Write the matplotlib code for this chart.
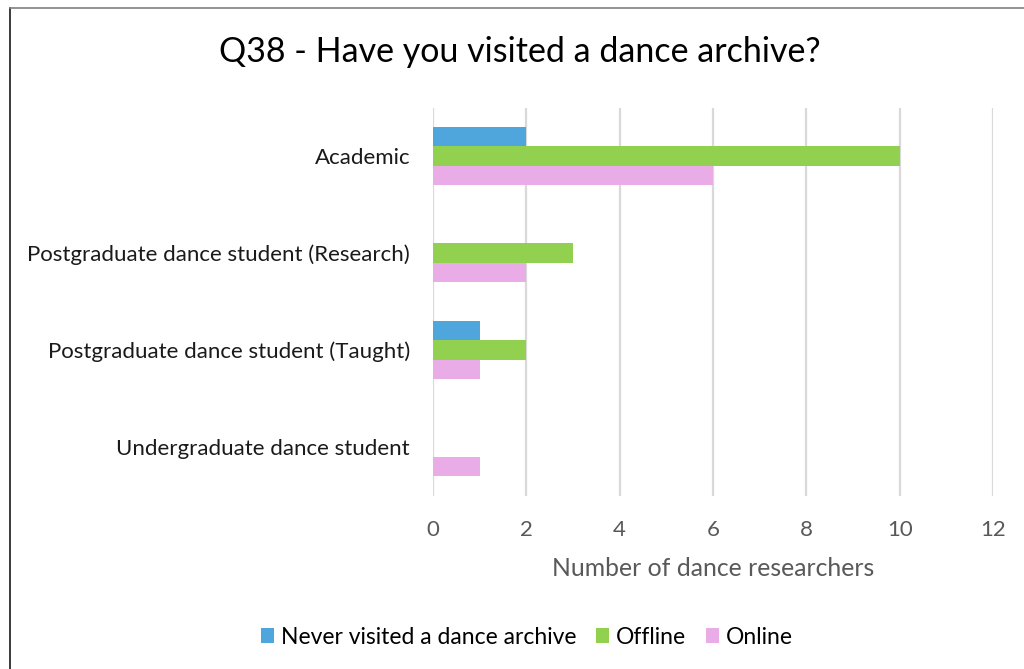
import matplotlib
matplotlib.use("Agg")
import matplotlib.pyplot as plt
from matplotlib.lines import Line2D
from matplotlib.patches import Patch
import numpy as np

plt.rcParams['font.family'] = ['Lato', 'DejaVu Sans']

categories = [
    "Academic",
    "Postgraduate dance student (Research)",
    "Postgraduate dance student (Taught)",
    "Undergraduate dance student",
]
series_names = ["Never visited a dance archive", "Offline", "Online"]
never_visited = [2, 0, 1, 0]
offline = [10, 3, 2, 0]
online = [6, 2, 1, 1]
x_ticks = [0, 2, 4, 6, 8, 10, 12]

colors = ["#4EA6DC", "#92D050", "#E9ACE6"]

fig = plt.figure(figsize=(10.24, 6.69), dpi=100)
ax = fig.add_axes([433 / 1024, 1 - 495.5 / 669, (993 - 433) / 1024, (495.5 - 107.5) / 669])

y = np.arange(len(categories))
h = 0.2
for i, (vals, c) in enumerate(zip([never_visited, offline, online], colors)):
    ax.barh(y + (i - 1) * h, vals, height=h, color=c, edgecolor="none", zorder=3)

ax.set_ylim(len(categories) - 0.5, -0.5)
ax.set_xlim(0, 12)
ax.set_xticks(x_ticks)
ax.set_xticklabels([str(t) for t in x_ticks], fontsize=16, color="#595959")
ax.set_yticks(y)
ax.set_yticklabels(categories, fontsize=16, color="#1a1a1a")
ax.tick_params(axis="both", length=0)
ax.tick_params(axis="x", pad=18)
ax.tick_params(axis="y", pad=16.5)
ax.xaxis.grid(True, color="#D9D9D9", linewidth=1.6, zorder=0)
ax.set_axisbelow(True)
for s in ax.spines.values():
    s.set_visible(False)

ax.set_xlabel("Number of dance researchers", fontsize=17.8, color="#595959", labelpad=12)

fig.text(0.508, 1 - 52 / 669, "Q38 - Have you visited a dance archive?",
         ha="center", va="center", fontsize=24.5, color="#000000")

handles = [Patch(facecolor=c, edgecolor="none") for c in colors]
fig.legend(handles, series_names, loc="center", bbox_to_anchor=(527 / 1024, 1 - 637 / 669),
           ncol=3, frameon=False, fontsize=16.5, handlelength=0.58, handleheight=0.58,
           handletextpad=0.3, columnspacing=0.85)

# frame edges on the left and top
fig.add_artist(Line2D([9.5 / 1024, 9.5 / 1024], [0, 1 - 7.5 / 669], color="#1a1a1a",
                      linewidth=1.2, transform=fig.transFigure))
fig.add_artist(Line2D([9.5 / 1024, 1], [1 - 7.5 / 669, 1 - 7.5 / 669], color="#7f7f7f",
                      linewidth=1.2, transform=fig.transFigure))

fig.savefig("out.png", dpi=100)
